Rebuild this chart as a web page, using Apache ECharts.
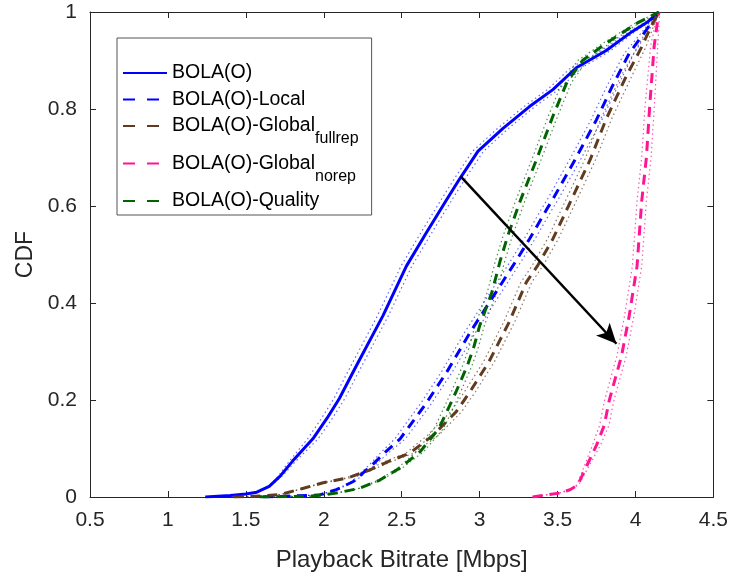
<!DOCTYPE html>
<html>
<head>
<meta charset="utf-8">
<script src="https://cdn.jsdelivr.net/npm/echarts@6/dist/echarts.min.js"></script>
<style>
  html, body { margin: 0; padding: 0; background: #fff; }
  #chart { width: 731px; height: 577px; }
</style>
</head>
<body>
<div id="chart"></div>
<script>
// CDF points: [bitrate (Mbps), CDF]
const bolaO = [[1.24,0],[1.4,0.003],[1.5,0.006],[1.57,0.01],[1.65,0.022],[1.72,0.043],[1.8,0.074],[1.93,0.12],[2.02,0.162],[2.1,0.203],[2.21,0.271],[2.38,0.374],[2.53,0.476],[2.66,0.546],[2.79,0.614],[2.87,0.655],[2.99,0.713],[3.15,0.76],[3.32,0.805],[3.47,0.84],[3.62,0.885],[3.81,0.92],[3.98,0.96],[4.08,0.98],[4.15,1]];
const bolaLocal = [[1.61,0],[1.8,0.002],[1.97,0.004],[2.08,0.015],[2.19,0.032],[2.31,0.066],[2.4,0.094],[2.49,0.12],[2.57,0.155],[2.65,0.19],[2.79,0.258],[2.94,0.34],[3.08,0.41],[3.16,0.45],[3.24,0.49],[3.32,0.532],[3.43,0.593],[3.47,0.614],[3.62,0.7],[3.75,0.778],[3.85,0.846],[3.96,0.915],[4.07,0.963],[4.15,1]];
const bolaFullrep = [[1.42,0],[1.6,0.002],[1.72,0.005],[1.87,0.018],[1.99,0.029],[2.15,0.039],[2.29,0.055],[2.42,0.074],[2.55,0.09],[2.7,0.127],[2.85,0.176],[2.94,0.218],[3.06,0.279],[3.19,0.361],[3.3,0.443],[3.37,0.476],[3.47,0.532],[3.57,0.6],[3.71,0.696],[3.81,0.778],[3.94,0.867],[4.04,0.928],[4.1,0.97],[4.15,1]];
const bolaNorep = [[3.34,0],[3.42,0.004],[3.51,0.008],[3.58,0.015],[3.63,0.025],[3.69,0.066],[3.75,0.107],[3.8,0.148],[3.83,0.197],[3.87,0.244],[3.91,0.29],[3.96,0.374],[4.01,0.476],[4.04,0.61],[4.07,0.7],[4.09,0.8],[4.12,0.93],[4.15,1]];
const bolaQuality = [[1.59,0],[1.8,0.001],[1.93,0.002],[2.08,0.008],[2.23,0.018],[2.36,0.035],[2.49,0.06],[2.62,0.094],[2.74,0.142],[2.81,0.19],[2.85,0.218],[2.92,0.27],[2.96,0.306],[3.0,0.353],[3.04,0.388],[3.08,0.423],[3.13,0.485],[3.18,0.538],[3.26,0.61],[3.37,0.7],[3.47,0.785],[3.56,0.855],[3.66,0.9],[3.81,0.935],[4.01,0.977],[4.15,1]];

// half width of the dotted confidence band around each curve (Mbps)
const bandHalf = [0.035, 0.035, 0.035, 0.03, 0.03];

const names = ['BOLA(O)', 'BOLA(O)-Local', 'BOLA(O)-Global_fullrep', 'BOLA(O)-Global_norep', 'BOLA(O)-Quality'];
const colors = ['#0000ff', '#0000ff', '#613b1f', '#ff1493', '#006400'];
const bandColors = ['rgba(0,0,255,0.6)', 'rgba(0,0,255,0.6)', 'rgba(97,59,31,0.7)', 'rgba(255,20,147,0.7)', 'rgba(0,100,0,0.7)'];
const curves = [bolaO, bolaLocal, bolaFullrep, bolaNorep, bolaQuality];

// arrow from BOLA(O) to Global_norep
const arrowFrom = [2.878, 0.661];
const arrowTo = [3.878, 0.316];

const font = 'Liberation Sans, Arial, Helvetica, sans-serif';
const txt = '#262626';

const series = [];
curves.forEach((d, i) => {
  [-1, 1].forEach(s => {
    series.push({
      type: 'line',
      name: names[i] + ' band' + s,
      data: d.map(p => [p[0] + s * bandHalf[i] * Math.min(1, p[1] * 8, (1 - p[1]) * 8 + 0.2), p[1]]),
      symbol: 'none',
      silent: true,
      z: 2,
      lineStyle: { color: bandColors[i], width: 1.2, type: [1.5, 3] }
    });
  });
});
curves.forEach((d, i) => {
  series.push({
    type: 'line',
    name: names[i],
    data: d,
    symbol: 'none',
    z: 3,
    itemStyle: { color: colors[i] },
    lineStyle: { color: colors[i], width: 3, type: i === 0 ? 'solid' : [10, 7] }
  });
});
series.push({
  type: 'line',
  name: 'arrow',
  data: [],
  z: 5,
  markLine: {
    silent: true,
    symbol: ['none', 'arrow'],
    symbolSize: [14, 20],
    label: { show: false },
    lineStyle: { color: '#000', width: 2.5, type: 'solid' },
    data: [[{ coord: arrowFrom }, { coord: arrowTo }]]
  }
});

const chart = echarts.init(document.getElementById('chart'));
chart.setOption({
  animation: false,
  backgroundColor: '#fff',
  grid: { left: 90, right: 17, top: 12, bottom: 78 },
  legend: {
    data: names.map((n, i) => ({
      name: n,
      lineStyle: { type: i === 0 ? 'solid' : [12, 12] }
    })),
    left: 117,
    top: 38,
    orient: 'vertical',
    itemWidth: 44,
    itemHeight: 14,
    itemGap: 6.5,
    padding: [25, 13, 4, 5],
    backgroundColor: '#fff',
    borderColor: '#555',
    borderWidth: 1,
    borderRadius: 0,
    itemStyle: { opacity: 0 },
    formatter: n => {
      const parts = n.split('_');
      return parts.length > 1 ? '{m|' + parts[0] + '}{s|' + parts[1] + '}' : '{p|' + n + '}';
    },
    textStyle: {
      fontFamily: font,
      color: '#000',
      rich: {
        p: { fontFamily: font, fontSize: 19.5, color: '#000' },
        m: { fontFamily: font, fontSize: 19.5, color: '#000', verticalAlign: 'top' },
        s: { fontFamily: font, fontSize: 16, color: '#000', lineHeight: 14, padding: [15, 0, 0, 0], verticalAlign: 'top' }
      }
    }
  },
  xAxis: [{
    type: 'value',
    min: 0.5, max: 4.5, interval: 0.5,
    name: 'Playback Bitrate [Mbps]',
    nameLocation: 'middle',
    nameGap: 51,
    nameTextStyle: { fontFamily: font, fontSize: 24, color: txt },
    axisLine: { onZero: false, lineStyle: { color: txt, width: 1 } },
    axisTick: { inside: true, length: 6, lineStyle: { color: txt } },
    axisLabel: { fontFamily: font, fontSize: 21, color: txt, margin: 13 },
    splitLine: { show: false }
  }, {
    type: 'value', position: 'top',
    min: 0.5, max: 4.5, interval: 0.5,
    axisLine: { onZero: false, lineStyle: { color: txt, width: 1 } },
    axisTick: { inside: true, length: 6, lineStyle: { color: txt } },
    axisLabel: { show: false },
    splitLine: { show: false }
  }],
  yAxis: [{
    type: 'value',
    min: 0, max: 1, interval: 0.2,
    name: 'CDF',
    nameLocation: 'middle',
    nameGap: 48,
    nameTextStyle: { fontFamily: font, fontSize: 23, color: txt },
    axisLine: { show: true, onZero: false, lineStyle: { color: txt, width: 1 } },
    axisTick: { show: true, inside: true, length: 6, lineStyle: { color: txt } },
    axisLabel: { fontFamily: font, fontSize: 21, color: txt, margin: 13 },
    splitLine: { show: false }
  }, {
    type: 'value', position: 'right',
    min: 0, max: 1, interval: 0.2,
    axisLine: { show: true, onZero: false, lineStyle: { color: txt, width: 1 } },
    axisTick: { show: true, inside: true, length: 6, lineStyle: { color: txt } },
    axisLabel: { show: false },
    splitLine: { show: false }
  }],
  series: series
});
</script>
</body>
</html>
